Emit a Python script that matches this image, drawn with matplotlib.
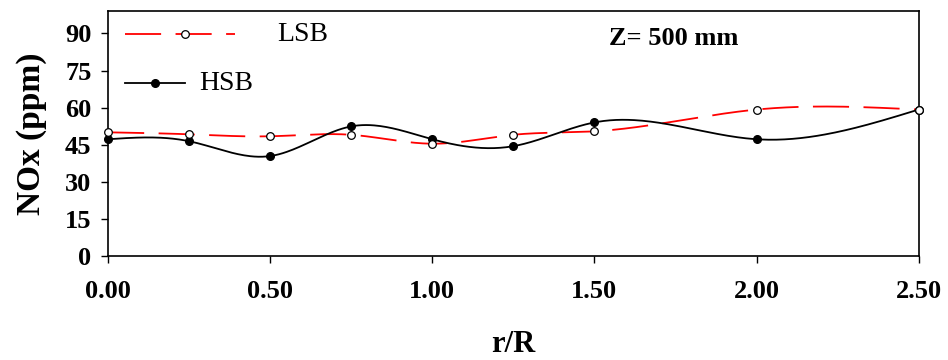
import numpy as np
import matplotlib
matplotlib.use("Agg")
from matplotlib import pyplot as plt
from matplotlib.lines import Line2D

r_R = [0.0, 0.25, 0.5, 0.75, 1.0, 1.25, 1.5, 2.0, 2.5]
lsb = [50.0, 49.2, 48.4, 49.0, 45.4, 49.0, 50.4, 59.2, 59.2]
hsb = [47.2, 46.4, 40.4, 52.4, 47.2, 44.4, 54.0, 47.2, 59.2]
yticks = [0, 15, 30, 45, 60, 75, 90]
xticks = [0.0, 0.5, 1.0, 1.5, 2.0, 2.5]


def spline(x, y, n=400):
    # natural cubic spline through the points
    x = np.asarray(x, float)
    y = np.asarray(y, float)
    k = len(x)
    h = np.diff(x)
    A = np.zeros((k, k))
    b = np.zeros(k)
    A[0, 0] = A[-1, -1] = 1
    for i in range(1, k - 1):
        A[i, i - 1] = h[i - 1]
        A[i, i] = 2 * (h[i - 1] + h[i])
        A[i, i + 1] = h[i]
        b[i] = 3 * ((y[i + 1] - y[i]) / h[i] - (y[i] - y[i - 1]) / h[i - 1])
    c = np.linalg.solve(A, b)
    xs = np.linspace(x[0], x[-1], n)
    idx = np.clip(np.searchsorted(x, xs) - 1, 0, k - 2)
    dx = xs - x[idx]
    bb = (y[1:] - y[:-1]) / h - h * (2 * c[:-1] + c[1:]) / 3
    d = (c[1:] - c[:-1]) / (3 * h)
    ys = y[idx] + bb[idx] * dx + c[idx] * dx ** 2 + d[idx] * dx ** 3
    return xs, ys


plt.rcParams["font.family"] = ["Liberation Serif", "DejaVu Serif"]
plt.rcParams["font.weight"] = "bold"

fig = plt.figure(figsize=(9.48, 3.6), dpi=100)
ax = fig.add_axes([0.114, 0.289, 0.855, 0.680])

xs, ys = spline(r_R, lsb)
ax.plot(xs, ys, color="red", lw=1.3, dashes=(20, 8), zorder=2)
ax.plot(r_R, lsb, "o", ms=5.5, mfc="white", mec="black", mew=0.9, zorder=4,
        clip_on=False)
xs, ys = spline(r_R, hsb)
ax.plot(xs, ys, color="black", lw=1.3, zorder=2)
ax.plot(r_R, hsb, "o", ms=5.5, mfc="black", mec="black", zorder=3,
        clip_on=False)

ax.set_xlim(0, 2.5)
ax.set_ylim(0, 99)
ax.set_xticks(xticks)
ax.set_xticklabels(["%.2f" % v for v in xticks])
ax.set_yticks(yticks)
ax.tick_params(direction="out", length=5, width=1, labelsize=19)
ax.tick_params(axis="x", pad=12)
ax.tick_params(axis="y", pad=7)
for s in ax.spines.values():
    s.set_linewidth(1.2)

ax.set_xlabel("r/R", fontsize=22, fontweight="bold", labelpad=20)
ax.set_ylabel("NOx (ppm)", fontsize=24, fontweight="bold", labelpad=13)

# legend samples
ax.add_line(Line2D([0.021, 0.157], [0.905, 0.905], transform=ax.transAxes,
                   color="red", lw=1.3, dashes=(20, 8)))
ax.plot([0.095], [0.905], "o", ms=5.5, mfc="white", mec="black", mew=0.9,
        transform=ax.transAxes)
ax.text(0.209, 0.905, "LSB", transform=ax.transAxes, fontsize=20,
        fontweight="normal", va="center")
ax.add_line(Line2D([0.021, 0.095], [0.705, 0.705], transform=ax.transAxes,
                   color="black", lw=1.3))
ax.plot([0.058], [0.705], "o", ms=5.5, mfc="black", mec="black",
        transform=ax.transAxes)
ax.text(0.113, 0.705, "HSB", transform=ax.transAxes, fontsize=20,
        fontweight="normal", va="center")

ax.text(0.618, 0.89, "Z= 500 mm", transform=ax.transAxes, fontsize=19,
        fontweight="bold", va="center")

fig.savefig("out.png", dpi=100)
